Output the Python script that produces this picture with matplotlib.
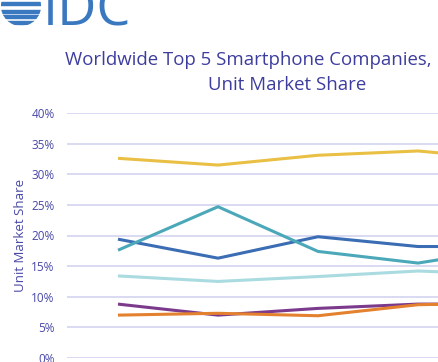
import matplotlib.pyplot as plt
from matplotlib.patches import Circle, Rectangle

plt.rcParams['font.family'] = ['Open Sans', 'DejaVu Sans']

# quarters (x labels are cropped out of the reference)
periods = [0, 1, 2, 3, 4]
yellow = [32.6, 31.5, 33.1, 33.8, 32.3]
dark_blue = [19.4, 16.3, 19.8, 18.2, 18.2]
teal = [17.6, 24.7, 17.4, 15.5, 18.1]
light_blue = [13.4, 12.5, 13.3, 14.2, 13.6]
purple = [8.8, 7.0, 8.1, 8.8, 8.8]
orange = [7.0, 7.3, 6.9, 8.7, 9.0]

series = [
    (yellow, '#e9c043'),
    (dark_blue, '#3a6db3'),
    (teal, '#4ba8b9'),
    (light_blue, '#a9dbe0'),
    (purple, '#7b3a8c'),
    (orange, '#e3812f'),
]
yticks = [0, 5, 10, 15, 20, 25, 30, 35, 40]
text_col = '#4848a6'

W, H = 438, 362
fig = plt.figure(figsize=(W / 100, H / 100), dpi=100)

# plot area in pixel terms
ax = fig.add_axes([67 / W, 4 / H, (W - 67) / W, (358 - 113) / H])
for vals, col in series:
    ax.plot(periods, vals, color=col, lw=2.2, solid_capstyle='butt')
ax.set_xlim(-0.51, 3.2)
ax.set_ylim(0, 40)
ax.set_yticks(yticks)
ax.set_yticklabels([f'{t}%' for t in yticks])
ax.set_xticks([])
ax.yaxis.grid(True, color='#d3d3f0', lw=1.2)
ax.set_axisbelow(True)
for s in ax.spines.values():
    s.set_visible(False)
ax.tick_params(axis='y', length=0, pad=9, labelsize=8.5, labelcolor=text_col)
ax.set_ylabel('Unit Market Share', color=text_col, fontsize=9.5, labelpad=3)

# title (right part of the first line is cropped in the reference)
fig.text(65 / W, 1 - 60 / H, 'Worldwide Top 5 Smartphone Companies,',
         color='#3d3d9e', fontsize=13.4, ha='left', va='center')
fig.text(208 / W, 1 - 85 / H, 'Unit Market Share',
         color='#3d3d9e', fontsize=13.4, ha='left', va='center')

# IDC logo
fig.text(43 / W, 1 - 26 / H, 'IDC', color='#3a78c0', fontsize=39,
         ha='left', va='baseline')
lax = fig.add_axes([0, 1 - 28 / H, 42 / W, 28 / H])
lax.set_xlim(0, 42)
lax.set_ylim(28, 0)
lax.axis('off')
circ = Circle((21, 6), 20, transform=lax.transData, facecolor='none', edgecolor='none')
lax.add_patch(circ)
for y0, h in [(2, 3), (10, 3), (15, 2.5), (21, 3)]:
    r = Rectangle((0, y0), 42, h, color='#3a78c0')
    lax.add_patch(r)
    r.set_clip_path(circ)

fig.savefig('out.png', dpi=100)
